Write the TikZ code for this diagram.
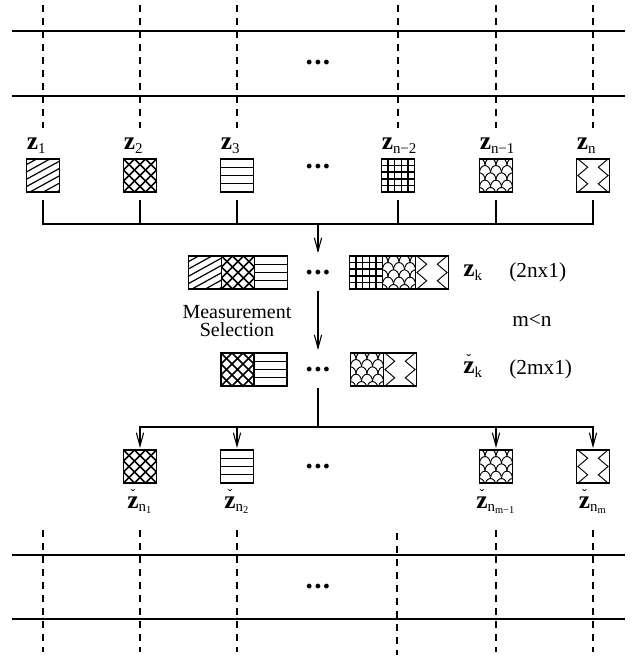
\documentclass[tikz,border=0pt]{standalone}
\usepackage{fontspec}
\setmainfont{Liberation Serif}
\usetikzlibrary{arrows.meta,positioning}
\newcommand{\bigz}{{\fontsize{19}{19}\selectfont\textbf{z}}}
\newcommand{\zlab}[1]{\bigz\textsubscript{#1}}
\newcommand{\zsel}[1]{\ooalign{\bigz\cr\hidewidth\raisebox{6.5pt}{\fontsize{11}{11}\selectfont ˇ}\hidewidth\cr}\textsubscript{#1}}
\newcommand{\skipdots}{{\fontsize{22}{22}\selectfont\textbf{.\kern1pt.\kern1pt.}}}
\tikzset{>={Straight Barb[length=10pt,width=5.5pt]},every node/.style={font=\fontsize{16}{18}\selectfont},
 cell/.style={draw,line width=0.8pt,minimum size=24.75pt,inner sep=0pt,outer sep=0pt},
 pp/.style={path picture={\begin{scope}[shift={(path picture bounding box.center)},x=1pt,y=1pt]#1\end{scope}}},
 diagcell/.style={cell,pp={\foreach \c in {-18,-12.5,...,18} \draw[line width=0.9pt] (-14,-7.7+\c)--(14,7.7+\c);}},
 crosscell/.style={cell,pp={\foreach \c in {-24.75,-16.5,...,25}
   {\draw[line width=1.1pt] (-13,-13+\c)--(13,13+\c) (-13,13+\c)--(13,-13+\c);}}},
 hlinecell/.style={cell,pp={\foreach \y in {-12,-6,0,6,12} \draw[line width=1.3pt] (-13,\y)--(13,\y);}},
 gridcell/.style={cell,line width=1.2pt,pp={\foreach \t in {-7.4,-2.5,2.5,7.4}
   {\draw[line width=1.2pt] (\t,-13)--(\t,13) (-13,\t)--(13,\t);}}},
 scalecell/.style={cell,pp={\foreach \r [evaluate=\r as \yy using 13-\r*5.5] in {0,...,5}
   {\foreach \i in {-2,...,2} \draw[line width=0.7pt,fill=white] ({\i*8.25+mod(\r,2)*4.125},\yy) ellipse [x radius=4.125,y radius=5.5];}}},
 zigcell/.style={cell,pp={\draw[line width=0.7pt] (-11.3,12.4)--(-4,6.2)--(-11.3,0)--(-4,-6.2)--(-11.3,-12.4)
   (11.3,12.4)--(4,6.2)--(11.3,0)--(4,-6.2)--(11.3,-12.4);}},
 track/.style={dash pattern=on 5pt off 4.75pt,line width=0.8pt},
 bus/.style={line width=0.8pt}}
\begin{document}
\begin{tikzpicture}[x=0.75pt,y=-0.75pt]
\useasboundingbox (0,0) rectangle (641,658);
% upper band
\draw[bus] (12,31)--(625,31) (12,96)--(625,96);
\foreach \x in {43,140,237,398,496,593} \draw[track] (\x,5)--(\x,128);
\node (topdots) at (318,63) {\skipdots};
% measurements
\foreach \n/\x/\s in {z1/43/diagcell,z2/140/crosscell,z3/237/hlinecell,zn2/398/gridcell,zn1/496/scalecell,zn/593/zigcell}
  \node[\s] (\n) at (\x,175.5) {};
\node (rowdots) at (318,167) {\skipdots};
\foreach \n/\l in {z1/1,z2/2,z3/3,zn2/n−2,zn1/n−1,zn/n}
  \node[above=4pt of \n.north west,anchor=south west,inner sep=0pt] (l\n) {\zlab{\l}};
\coordinate (busa) at (318,224);
\foreach \n in {z1,z2,z3,zn2,zn1,zn} \draw[bus] ([yshift=-6pt]\n.south) |- (busa);
% stacked vector
\node[diagcell] (a1) at (205,272.5) {};
\node[crosscell,right=0pt of a1] (a2) {};
\node[hlinecell,right=0pt of a2] (a3) {};
\node[minimum height=24.75pt,inner sep=0pt] (adots) at (318,272.5) {\skipdots};
\node[gridcell] (b1) at (366,272.5) {};
\node[scalecell,right=0pt of b1] (b2) {};
\node[zigcell,right=0pt of b2] (b3) {};
\node[anchor=west,inner sep=0pt] (zk) at (463,272.5) {\zlab{k}};
\node[anchor=west,inner sep=0pt] (dimn) at (509,272.5) {(2nx1)};
\draw[bus,->,shorten >=2pt] (busa)--(adots.north);
% selection
\node[align=center,inner sep=0pt,font=\fontsize{15}{14}\selectfont] (msel) at (237,321) {Measurement\\Selection};
\node[inner sep=0pt] (mn) at (532,320) {m<n};
\node[crosscell] (c1) at (237.5,369.5) {};
\node[hlinecell,right=0pt of c1] (c2) {};
\node[minimum height=24.75pt,inner sep=0pt] (cdots) at (318,369.5) {\skipdots};
\node[scalecell] (d1) at (367,369.5) {};
\node[zigcell,right=0pt of d1] (d2) {};
\node[anchor=west,inner sep=0pt] (zsk) at (463,369.5) {\zsel{k}};
\node[anchor=west,inner sep=0pt] (dimm) at (509,369.5) {(2mx1)};
\draw[bus,->,shorten <=1pt,shorten >=2pt] (adots.south)--(cdots.north);
% selected measurements
\coordinate (busb) at (318,427);
\draw[bus,shorten <=1.5pt] (cdots.south)--(busb);
\node[crosscell] (s1) at (140,466.5) {};
\node[hlinecell] (s2) at (237,466.5) {};
\node (sdots) at (318,466.5) {\skipdots};
\node[scalecell] (s3) at (496,466.5) {};
\node[zigcell] (s4) at (593,466.5) {};
\foreach \n in {s1,s2,s3,s4} \draw[bus,->,shorten >=1.5pt] (busb) -| (\n.north);
\foreach \n/\l in {s1/1,s2/2,s3/m−1,s4/m}
  \node[below=10pt of \n,inner sep=0pt] (l\n) {\zsel{n\textsubscript{\l}}};
% lower band
\draw[bus] (12,555)--(625,555) (12,619)--(625,619);
\foreach \x in {43,140,237,496,593} \draw[track] (\x,530)--(\x,652);
\draw[track] (397,533)--(397,655);
\node (botdots) at (318,587) {\skipdots};
\end{tikzpicture}
\end{document}
